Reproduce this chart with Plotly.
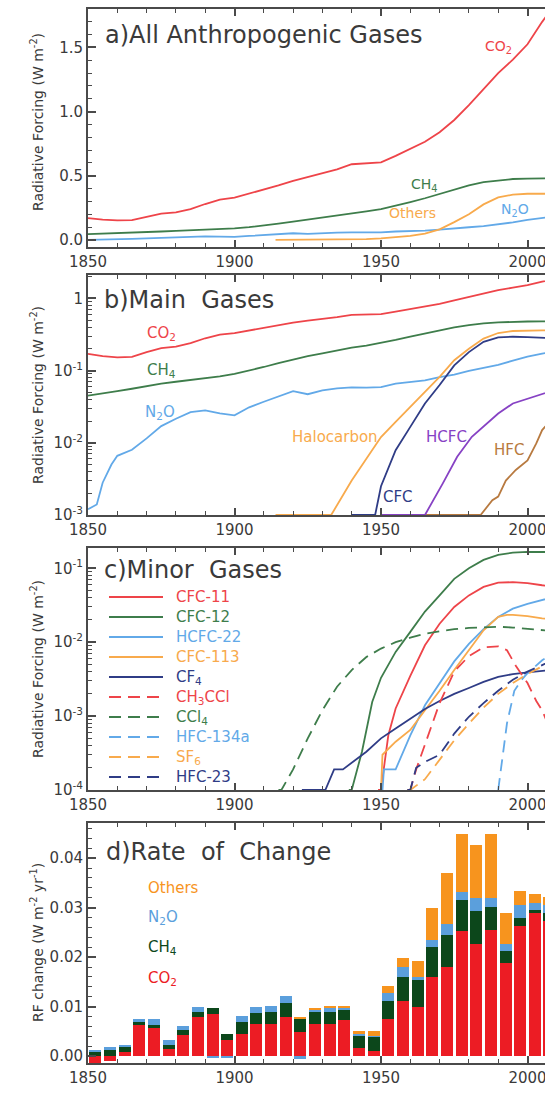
import numpy as np
import plotly.graph_objects as go

# ---------------- DATA ----------------
YEARS_5 = list(range(1850, 2015, 5))
CO2_RF = [0.170, 0.158, 0.152, 0.155, 0.180, 0.205, 0.215, 0.240, 0.280, 0.315, 0.330,
          0.360, 0.395, 0.425, 0.460, 0.490, 0.515, 0.550, 0.590, 0.595, 0.605, 0.655,
          0.710, 0.765, 0.840, 0.935, 1.050, 1.175, 1.300, 1.405, 1.525, 1.700, 1.850]
CH4_RF = [0.045, 0.048, 0.052, 0.056, 0.061, 0.066, 0.070, 0.074, 0.078, 0.083, 0.090,
          0.100, 0.112, 0.127, 0.143, 0.158, 0.173, 0.190, 0.207, 0.222, 0.240, 0.265,
          0.295, 0.325, 0.360, 0.395, 0.425, 0.450, 0.465, 0.475, 0.478, 0.480, 0.482]
N2O_YEARS = [1850, 1853, 1855, 1858, 1860] + list(range(1865, 2015, 5))
N2O_RF = [0.0012, 0.0014, 0.0028, 0.0050, 0.0066, 0.0080, 0.0115, 0.0170, 0.0215, 0.0265,
          0.0280, 0.0255, 0.0240, 0.0310, 0.0370, 0.0440, 0.0520, 0.0470, 0.0530, 0.0565,
          0.0585, 0.0580, 0.0590, 0.0660, 0.0690, 0.0730, 0.0810, 0.0880, 0.0990, 0.1080,
          0.1200, 0.1370, 0.1560, 0.1720, 0.1850]
HALO_YEARS = [1914, 1933, 1940, 1945, 1950, 1955, 1960, 1965, 1970, 1975, 1980, 1985,
              1990, 1995, 2000, 2005, 2010]
HALO_RF = [0.0, 0.0010, 0.0030, 0.0059, 0.012, 0.0195, 0.0315, 0.050, 0.082, 0.139,
           0.200, 0.277, 0.331, 0.353, 0.360, 0.360, 0.360]
CFC_YEARS = [1940, 1948, 1950, 1955, 1960, 1965, 1970, 1975, 1980, 1985, 1990, 1995, 2000, 2005, 2010]
CFC_RF = [0.0, 0.0010, 0.0025, 0.0079, 0.0166, 0.035, 0.063, 0.118, 0.180, 0.250,
          0.288, 0.294, 0.290, 0.285, 0.280]
HCFC_YEARS = [1950, 1965, 1971, 1976, 1981, 1985, 1990, 1995, 2000, 2005, 2010]
HCFC_RF = [0.0, 0.0010, 0.0027, 0.0064, 0.0121, 0.0166, 0.0254, 0.035, 0.041, 0.048, 0.055]
HFC_YEARS = [1950, 1984, 1988, 1990, 1992.6, 1996, 2000, 2003, 2005, 2010]
HFC_RF = [0.0, 0.0010, 0.0016, 0.0018, 0.0030, 0.0042, 0.0057, 0.0098, 0.015, 0.025]

# minor gases
CFC11_YEARS = [1949, 1950, 1951, 1952.5, 1955, 1960, 1965, 1970, 1975, 1980, 1985, 1990, 1995, 2000, 2005, 2010]
CFC11_RF = [0.0, 1.0e-4, 2.0e-4, 5.5e-4, 0.00127, 0.0035, 0.0091, 0.0178, 0.030, 0.043,
            0.056, 0.064, 0.065, 0.063, 0.059, 0.056]
CFC12_YEARS = [1939, 1940, 1943.5, 1947, 1950, 1955, 1960, 1965, 1970, 1975, 1980, 1985, 1990, 1995, 2000, 2005, 2010]
CFC12_RF = [0.0, 1.0e-4, 3.3e-4, 0.00155, 0.0033, 0.0074, 0.0138, 0.026, 0.043, 0.072,
            0.100, 0.130, 0.152, 0.163, 0.167, 0.167, 0.166]
HCFC22_YEARS = [1950.5, 1951, 1955, 1957.5, 1960, 1965, 1970, 1975, 1980, 1985, 1990, 1995, 2000, 2005, 2010]
HCFC22_RF = [0.0, 1.9e-4, 1.9e-4, 3.3e-4, 5.5e-4, 0.0014, 0.0028, 0.0055, 0.0095, 0.015,
             0.022, 0.0285, 0.033, 0.037, 0.042]
CFC113_YEARS = [1950, 1950.5, 1955, 1960, 1965, 1970, 1975, 1980, 1985, 1990, 1993, 1995, 2000, 2005, 2010]
CFC113_RF = [0.0, 3.0e-4, 4.5e-4, 6.5e-4, 0.0012, 0.0022, 0.0042, 0.0077, 0.0145, 0.022,
             0.0235, 0.0235, 0.0225, 0.021, 0.020]
CF4_YEARS = [1923, 1931, 1934, 1937, 1945, 1950, 1955, 1960, 1965, 1970, 1975, 1980, 1985, 1990, 1995, 2000, 2005, 2010]
CF4_RF = [0.0, 0.0, 1.9e-4, 1.9e-4, 3.3e-4, 5.0e-4, 6.8e-4, 9.3e-4, 0.00125, 0.0016,
          0.0020, 0.0024, 0.0029, 0.0034, 0.0037, 0.0039, 0.0041, 0.0043]
CH3CCL3_YEARS = [1959, 1960, 1962, 1967, 1970, 1975, 1980, 1985, 1990, 1993, 1996, 2000, 2003, 2005, 2010]
CH3CCL3_RF = [0.0, 1.0e-4, 1.9e-4, 6.8e-4, 0.0015, 0.0040, 0.0065, 0.0085, 0.0088, 0.0078,
              0.0048, 0.0028, 0.0016, 0.0012, 0.0004]
CCL4_YEARS = [1915, 1916, 1920, 1925, 1930, 1935, 1940, 1945, 1950, 1955, 1960, 1965, 1970,
              1975, 1980, 1985, 1990, 1995, 2000, 2005, 2010]
CCL4_RF = [0.0, 1.0e-4, 1.9e-4, 5.0e-4, 0.0012, 0.0025, 0.0042, 0.0063, 0.0082, 0.0100,
           0.0115, 0.0130, 0.0140, 0.0150, 0.0156, 0.0160, 0.0162, 0.0158, 0.0152, 0.0146, 0.0140]
HFC134A_YEARS = [1990, 1991, 1993, 1995.5, 1998, 2000, 2003, 2005, 2010]
HFC134A_RF = [0.0, 1.9e-4, 8.0e-4, 0.0022, 0.0031, 0.0038, 0.0049, 0.0057, 0.0075]
SF6_YEARS = [1959, 1960, 1965, 1970, 1975, 1980, 1985, 1990, 1995, 2000, 2005, 2010]
SF6_RF = [0.0, 1.0e-4, 1.4e-4, 2.6e-4, 4.7e-4, 7.9e-4, 0.0013, 0.0020, 0.0028, 0.0037, 0.0047, 0.0060]
HFC23_YEARS = [1959, 1960, 1962, 1965, 1970, 1975, 1980, 1985, 1990, 1995, 2000, 2005, 2010]
HFC23_RF = [0.0, 1.0e-4, 2.0e-4, 2.4e-4, 3.0e-4, 5.8e-4, 9.8e-4, 0.0015, 0.0022, 0.0031,
            0.0040, 0.0049, 0.0060]

# rate of change, 5-year bins
BIN_START = list(range(1850, 2010, 5))
RATE_CO2 = [-0.0015, -0.0009, 0.0009, 0.0062, 0.0057, 0.0015, 0.0043, 0.0079, 0.0085, 0.0032,
            0.0045, 0.0065, 0.0065, 0.0078, 0.0049, 0.0065, 0.0065, 0.0072, 0.0017, 0.0011,
            0.0074, 0.0112, 0.0100, 0.0160, 0.0179, 0.0252, 0.0227, 0.0255, 0.0188, 0.0262,
            0.0289, 0.0272]
RATE_CH4 = [0.0010, 0.0012, 0.0010, 0.0007, 0.0006, 0.0008, 0.0009, 0.0010, 0.0013, 0.0013,
            0.0024, 0.0022, 0.0024, 0.0029, 0.0026, 0.0026, 0.0025, 0.0021, 0.0025, 0.0028,
            0.0038, 0.0047, 0.0055, 0.0060, 0.0066, 0.0064, 0.0067, 0.0046, 0.0025, 0.0018,
            0.0007, 0.0018]
RATE_N2O = [0.0002, 0.0007, 0.0004, 0.0005, 0.0011, 0.0009, 0.0009, 0.0010, -0.0004, -0.0003,
            0.0011, 0.0012, 0.0013, 0.0015, -0.0005, 0.0003, 0.0009, 0.0005, 0.0003, 0.0002,
            0.0015, 0.0020, 0.0004, 0.0015, 0.0022, 0.0016, 0.0026, 0.0019, 0.0014, 0.0026,
            0.0014, 0.0015]
RATE_OTH = [0.0, 0.0, 0.0, 0.0, 0.0, 0.0, 0.0, 0.0, 0.0, 0.0,
            0.0, 0.0, 0.0, 0.0, 0.0003, 0.0003, 0.0002, 0.0003, 0.0005, 0.0009,
            0.0015, 0.0020, 0.0033, 0.0065, 0.0102, 0.0117, 0.0106, 0.0129, 0.0063, 0.0027,
            0.0017, 0.0017]

X_TICKS = [1850, 1900, 1950, 2000]

# ---------------- STYLE ----------------
W, H = 545, 1094
ML = 88
PW = W - ML
FONT = "DejaVu Sans"
AX = "#4a4a4a"
TXT = "#3a3a3a"
RED, GREEN, BLUE, ORANGE = "#EE4449", "#3E7D4B", "#62A9E8", "#F8AA4C"
NAVY, PURPLE, BROWN = "#2F3C86", "#8742C4", "#B87A40"
BRED, BGREEN, BBLUE, BORANGE = "#EC1C24", "#0C471B", "#5B9FDC", "#F7941E"
DASH = "12px,7px"
LW = 1.8

# panels: (top_px, bottom_px)
PANELS = [(9, 247), (275, 515), (548, 790), (823, 1063)]


def py(p):
    return 1 - p / H


def px(p):
    return (p - ML) / PW


fig = go.Figure()


def line(x, y, color, ax, dash=None, floor=None):
    yy = np.asarray(y, dtype=float)
    if floor is not None:
        yy = np.clip(yy, floor, None)
    fig.add_trace(go.Scatter(x=x, y=yy, mode="lines", xaxis="x" + ax, yaxis="y" + ax,
                             line=dict(color=color, width=LW, dash=dash),
                             showlegend=False, hoverinfo="skip"))


# panel a
line(YEARS_5, CO2_RF, RED, "")
line(YEARS_5, CH4_RF, GREEN, "")
line(N2O_YEARS, N2O_RF, BLUE, "")
line(HALO_YEARS, HALO_RF, ORANGE, "")

# panel b
FB = 1e-3
line(YEARS_5, CO2_RF, RED, "2", floor=FB)
line(YEARS_5, CH4_RF, GREEN, "2", floor=FB)
line(N2O_YEARS, N2O_RF, BLUE, "2", floor=FB)
line(HFC_YEARS, HFC_RF, BROWN, "2", floor=FB)
line(HCFC_YEARS, HCFC_RF, PURPLE, "2", floor=FB)
line(HALO_YEARS, HALO_RF, ORANGE, "2", floor=FB)
line(CFC_YEARS, CFC_RF, NAVY, "2", floor=FB)

# panel c
FC = 1e-4
MINOR = [
    ("CFC-11", CFC11_YEARS, CFC11_RF, RED, None),
    ("CFC-12", CFC12_YEARS, CFC12_RF, GREEN, None),
    ("HCFC-22", HCFC22_YEARS, HCFC22_RF, BLUE, None),
    ("CFC-113", CFC113_YEARS, CFC113_RF, ORANGE, None),
    ("CF<sub>4</sub>", CF4_YEARS, CF4_RF, NAVY, None),
    ("CH<sub>3</sub>CCl", CH3CCL3_YEARS, CH3CCL3_RF, RED, DASH),
    ("CCl<sub>4</sub>", CCL4_YEARS, CCL4_RF, GREEN, DASH),
    ("HFC-134a", HFC134A_YEARS, HFC134A_RF, BLUE, DASH),
    ("SF<sub>6</sub>", SF6_YEARS, SF6_RF, ORANGE, DASH),
    ("HFC-23", HFC23_YEARS, HFC23_RF, NAVY, DASH),
]
for name, xs, ys, col, dsh in MINOR:
    line(xs, ys, col, "3", dash=dsh, floor=FC)

# panel d bars
bx = [b + 2.5 for b in BIN_START]
for vals, col in [(RATE_CO2, BRED), (RATE_CH4, BGREEN), (RATE_N2O, BBLUE), (RATE_OTH, BORANGE)]:
    fig.add_trace(go.Bar(x=bx, y=vals, width=4.1, marker=dict(color=col, line=dict(width=0)),
                         xaxis="x4", yaxis="y4", showlegend=False, hoverinfo="skip"))

# ---------------- AXES ----------------
tickfont = dict(family=FONT, size=15, color=TXT)


def xaxis(anchor, top, bot):
    return dict(domain=[0, 1], anchor=anchor, range=[1850, 1850 + PW / 2.93],
                showline=True, linecolor=AX, linewidth=2, mirror="ticks",
                ticks="inside", ticklen=7, tickwidth=1.5, tickcolor=AX,
                tickmode="array", tickvals=X_TICKS, ticktext=[str(v) for v in X_TICKS],
                ticklabeloverflow="allow",
                minor=dict(tickmode="array", tickvals=list(range(1850, 2010, 10)),
                           ticks="inside", ticklen=4, tickwidth=1.2, tickcolor=AX),
                showgrid=False, zeroline=False, tickfont=tickfont, automargin=False)


def ydom(i):
    t, b = PANELS[i]
    return [py(b), py(t)]


ybase = dict(showline=True, linecolor=AX, linewidth=2, mirror=False, ticks="inside",
             ticklen=8, tickwidth=1.5, tickcolor=AX, showgrid=False, zeroline=False,
             tickfont=tickfont, automargin=False, tickmode="array")

lay = {}
lay["xaxis"] = xaxis("y", *PANELS[0])
lay["xaxis2"] = xaxis("y2", *PANELS[1])
lay["xaxis3"] = xaxis("y3", *PANELS[2])
lay["xaxis4"] = xaxis("y4", *PANELS[3])

A_TICKS = [0.0, 0.5, 1.0, 1.5]
lay["yaxis"] = dict(ybase, domain=ydom(0), anchor="x", range=[-0.055, 1.8],
                    tickvals=A_TICKS, ticktext=["%.1f" % v for v in A_TICKS],
                    minor=dict(tickmode="array", tickvals=[round(0.1 * k, 1) for k in range(0, 18)],
                               ticks="inside", ticklen=4, tickwidth=1.2, tickcolor=AX))


def logminor(lo, hi):
    out = []
    for d in range(lo, hi + 1):
        for k in range(2, 10):
            out.append(k * 10.0 ** d)
    return out


B_TICKS = [1e-3, 1e-2, 1e-1, 1]
lay["yaxis2"] = dict(ybase, domain=ydom(1), anchor="x2", type="log", range=[-3, 0.323],
                     tickvals=B_TICKS,
                     ticktext=["10<sup>-3</sup>", "10<sup>-2</sup>", "10<sup>-1</sup>", "1"],
                     minor=dict(tickmode="array", tickvals=logminor(-3, 0),
                                ticks="inside", ticklen=4, tickwidth=1.2, tickcolor=AX))
C_TICKS = [1e-4, 1e-3, 1e-2, 1e-1]
lay["yaxis3"] = dict(ybase, domain=ydom(2), anchor="x3", type="log", range=[-4, -0.725],
                     tickvals=C_TICKS,
                     ticktext=["10<sup>-4</sup>", "10<sup>-3</sup>", "10<sup>-2</sup>", "10<sup>-1</sup>"],
                     minor=dict(tickmode="array", tickvals=logminor(-4, -1),
                                ticks="inside", ticklen=4, tickwidth=1.2, tickcolor=AX))
D_TICKS = [0.0, 0.01, 0.02, 0.03, 0.04]
lay["yaxis4"] = dict(ybase, domain=ydom(3), anchor="x4", range=[-0.0014, 0.0471],
                     tickvals=D_TICKS, ticktext=["%.2f" % v for v in D_TICKS],
                     minor=dict(tickmode="array", tickvals=[round(0.002 * k, 3) for k in range(0, 24)],
                                ticks="inside", ticklen=4, tickwidth=1.2, tickcolor=AX))

# ---------------- TEXT ----------------
ann = []


def text(t, x, y, color, size=15, xanchor="center"):
    ann.append(dict(text=t, x=px(x), y=py(y), xref="paper", yref="paper", showarrow=False,
                    xanchor=xanchor, yanchor="middle",
                    font=dict(family=FONT, size=size, color=color)))


NB = "\u00a0"
text("a)All Anthropogenic Gases", 103, 35, TXT, 24, "left")
text("b)Main" + NB * 2 + "Gases", 102, 300, TXT, 24, "left")
text("c)Minor" + NB * 2 + "Gases", 102, 570, TXT, 24, "left")
text("d)Rate" + NB * 2 + "of" + NB * 2 + "Change", 104, 852, TXT, 24, "left")

for i, t in enumerate(["Radiative Forcing (W m<sup>-2</sup>)"] * 3 + ["RF change (W m<sup>-2</sup> yr<sup>-1</sup>)"]):
    top, bot = PANELS[i]
    ann.append(dict(text=t, x=px(37), y=py((top + bot) / 2 - (6 if i == 0 else 0)), xref="paper",
                    yref="paper", showarrow=False, textangle=-90, xanchor="center",
                    yanchor="middle", font=dict(family=FONT, size=14, color=TXT)))

# panel a labels
text("CO<sub>2</sub>", 498, 47, RED, 14)
text("CH<sub>4</sub>", 424, 185, GREEN, 14)
text("Others", 412, 213, ORANGE, 14)
text("N<sub>2</sub>O", 515, 210, BLUE, 14)
# panel b labels
text("CO<sub>2</sub>", 161, 333, RED, 15)
text("CH<sub>4</sub>", 161, 370, GREEN, 15)
text("N<sub>2</sub>O", 160, 412, BLUE, 15)
text("Halocarbon", 335, 437, ORANGE, 15)
text("HCFC", 446, 437, PURPLE, 15)
text("HFC", 509, 450, BROWN, 15)
text("CFC", 398, 497, NAVY, 15)
# panel d labels
text("Others", 146, 888, BORANGE, 15, "left")
text("N<sub>2</sub>O", 146, 917, BBLUE, 15, "left")
text("CH<sub>4</sub>", 146, 947, BGREEN, 15, "left")
text("CO<sub>2</sub>", 146, 978, BRED, 15, "left")

# panel c legend (decoration)
shapes = []
for k, (name, xs, ys, col, dsh) in enumerate(MINOR):
    yrow = 597 + 20 * k
    shapes.append(dict(type="line", xref="paper", yref="paper", x0=px(109), x1=px(163),
                       y0=py(yrow), y1=py(yrow), line=dict(color=col, width=LW, dash=dsh)))
    text(name, 174, yrow, col, 15, "left")

fig.update_layout(width=W, height=H, margin=dict(l=ML, r=0, t=0, b=0),
                  paper_bgcolor="white", plot_bgcolor="white", barmode="relative",
                  bargap=0, annotations=ann, shapes=shapes, showlegend=False, **lay)

fig.write_html("out.html", config={"displayModeBar": False},
               post_script="document.body.style.margin='0';document.body.style.overflow='hidden';")
